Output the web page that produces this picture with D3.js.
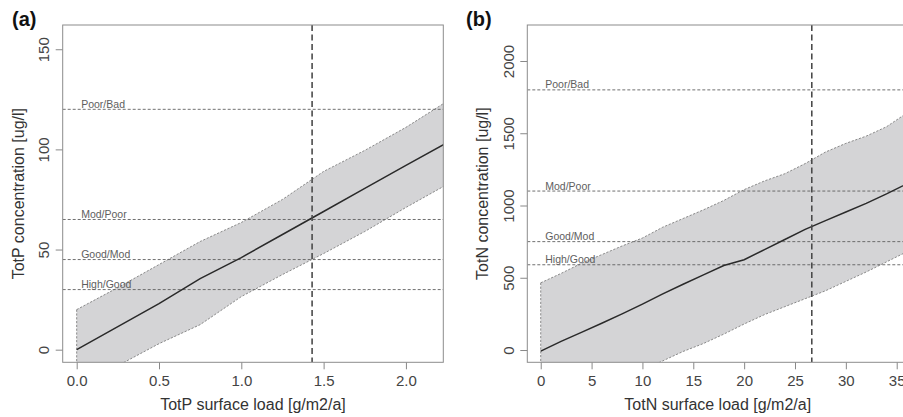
<!DOCTYPE html>
<html>
<head>
<meta charset="utf-8">
<script src="https://cdn.jsdelivr.net/npm/d3@7"></script>
<style>
  html, body { margin: 0; padding: 0; background: #fff; }
  svg { display: block; font-family: "Liberation Sans", Arial, sans-serif; }
</style>
</head>
<body>
<svg id="chart" width="903" height="417"></svg>
<script>
// ---- Total phosphorus: surface load vs. lake concentration ----
const loadP  = [0, 0.25, 0.5, 0.75, 1.0, 1.25, 1.5, 1.75, 2.0, 2.25];
const fitP   = [0, 11.5, 23, 35.5, 46, 57.5, 69, 80.5, 92, 103.3];
const upperP = [20, 31, 42.5, 54, 63.5, 75, 89, 99.5, 111, 124];
const lowerP = [-19, -8, 3, 12.5, 26.5, 37.5, 48, 59, 71, 82.5];
const thresholdsP = [30, 45, 65, 120];
const currentLoadP = 1.43;
const xTicksP = [0, 0.5, 1.0, 1.5, 2.0];
const yTicksP = [0, 50, 100, 150];

// ---- Total nitrogen: surface load vs. lake concentration ----
const loadN  = [0, 2, 4, 6, 8, 10, 12, 14, 16, 18, 20, 22, 24, 26, 28, 30, 32, 34, 36];
const fitN   = [-8, 60, 122, 185, 250, 318, 388, 455, 520, 585, 625, 695, 765, 835, 895, 955, 1015, 1080, 1150];
const upperN = [465, 530, 600, 660, 720, 775, 850, 910, 970, 1035, 1110, 1170, 1220, 1290, 1370, 1430, 1480, 1545, 1640];
const lowerN = [-450, -390, -330, -265, -205, -140, -75, -10, 45, 110, 180, 245, 300, 355, 410, 475, 540, 610, 680];
const thresholdsN = [590, 750, 1100, 1800];
const currentLoadN = 26.65;
const xTicksN = [0, 5, 10, 15, 20, 25, 30, 35];
const yTicksN = [0, 500, 1000, 1500, 2000];

// ecological class boundaries, low to high
const classLabels = ["High/Good", "Good/Mod", "Mod/Poor", "Poor/Bad"];

const svg = d3.select("#chart");

function panel(cfg) {
  const { id, left, right, top, bottom, xDomain, yDomain, load, fit, upper, lower,
          thresholds, current, xTicks, yTicks, xFmt, xTitle, yTitle, tag,
          tagX, yTickBase, yTitleBase } = cfg;

  const x = d3.scaleLinear().domain(xDomain).range([left, right]);
  const y = d3.scaleLinear().domain(yDomain).range([bottom, top]);

  svg.append("clipPath").attr("id", "clip-" + id)
    .append("rect").attr("x", left).attr("y", top)
    .attr("width", right - left).attr("height", bottom - top);

  const g = svg.append("g").attr("clip-path", `url(#clip-${id})`);

  const rows = load.map((d, i) => ({ x: d, fit: fit[i], hi: upper[i], lo: lower[i] }));

  // prediction band
  g.append("path").datum(rows)
    .attr("d", d3.area().x(d => x(d.x)).y0(d => y(d.lo)).y1(d => y(d.hi)))
    .attr("fill", "#d4d4d6").attr("stroke", "none");

  const edge = { stroke: "#7e7e7e", "stroke-width": 0.9, "stroke-dasharray": "2.2,1.6", fill: "none" };
  const bandUp = g.append("path").datum(rows).attr("d", d3.line().x(d => x(d.x)).y(d => y(d.hi)));
  const bandLo = g.append("path").datum(rows).attr("d", d3.line().x(d => x(d.x)).y(d => y(d.lo)));
  const bandStart = g.append("line")
    .attr("x1", x(load[0])).attr("x2", x(load[0]))
    .attr("y1", y(upper[0])).attr("y2", y(lower[0]));
  [bandUp, bandLo, bandStart].forEach(s => Object.entries(edge).forEach(([k, v]) => s.attr(k, v)));

  // class boundaries
  thresholds.forEach((t, i) => {
    g.append("line")
      .attr("x1", left).attr("x2", right)
      .attr("y1", y(t)).attr("y2", y(t))
      .attr("stroke", "#606060").attr("stroke-width", 0.9)
      .attr("stroke-dasharray", "3,2");
    g.append("text")
      .attr("x", x(0) + 4.5).attr("y", y(t) - 1.5)
      .attr("font-size", 10.5).attr("fill", "#5e5e5e")
      .text(classLabels[i]);
  });

  // fitted response
  g.append("path").datum(rows)
    .attr("d", d3.line().x(d => x(d.x)).y(d => y(d.fit)))
    .attr("fill", "none").attr("stroke", "#2a2a2a").attr("stroke-width", 1.5);

  // present load
  g.append("line")
    .attr("x1", x(current)).attr("x2", x(current))
    .attr("y1", top).attr("y2", bottom)
    .attr("stroke", "#4a4a4a").attr("stroke-width", 1.6)
    .attr("stroke-dasharray", "6,3.5");

  // axes
  const xAxis = svg.append("g").attr("transform", `translate(0,${bottom})`)
    .call(d3.axisBottom(x).tickValues(xTicks).tickFormat(xFmt).tickSize(7).tickPadding(6));
  xAxis.select(".domain").remove();
  xAxis.selectAll("line").attr("stroke", "#888");
  xAxis.selectAll("text").attr("font-size", 15).attr("fill", "#444")
    .attr("font-family", "Liberation Sans, Arial, sans-serif").attr("dy", "0.72em");

  const yAxis = svg.append("g").attr("transform", `translate(${left},0)`)
    .call(d3.axisLeft(y).tickValues(yTicks).tickFormat(d3.format("d")).tickSize(7));
  yAxis.select(".domain").remove();
  yAxis.selectAll("line").attr("stroke", "#888");
  yAxis.selectAll("text")
    .attr("font-size", 15).attr("fill", "#444")
    .attr("font-family", "Liberation Sans, Arial, sans-serif")
    .attr("transform", "rotate(-90)")
    .attr("x", 0).attr("y", -(left - yTickBase)).attr("dy", 0)
    .attr("text-anchor", "middle");

  // plot frame
  svg.append("rect")
    .attr("x", left).attr("y", top)
    .attr("width", right - left).attr("height", bottom - top)
    .attr("fill", "none").attr("stroke", "#8c8c8c").attr("stroke-width", 1);

  // titles
  svg.append("text")
    .attr("x", (left + right) / 2).attr("y", 410)
    .attr("text-anchor", "middle").attr("font-size", 16).attr("fill", "#333")
    .text(xTitle);
  svg.append("text")
    .attr("transform", `translate(${yTitleBase},${(top + bottom) / 2}) rotate(-90)`)
    .attr("text-anchor", "middle").attr("font-size", 16).attr("fill", "#333")
    .text(yTitle);
  svg.append("text")
    .attr("x", tagX).attr("y", 26)
    .attr("font-size", 20).attr("font-weight", "bold").attr("fill", "#111")
    .text(tag);
}

panel({
  id: "p", left: 62.7, right: 443.3, top: 25, bottom: 362.3,
  xDomain: [-0.085, 2.227], yDomain: [-6.3, 162.1],
  load: loadP, fit: fitP, upper: upperP, lower: lowerP,
  thresholds: thresholdsP, current: currentLoadP,
  xTicks: xTicksP, yTicks: yTicksP, xFmt: d3.format(".1f"),
  xTitle: "TotP surface load [g/m2/a]", yTitle: "TotP concentration [ug/l]",
  tag: "(a)", tagX: 12, yTickBase: 48.5, yTitleBase: 24
});

panel({
  id: "n", left: 527.3, right: 908.2, top: 25, bottom: 362.3,
  xDomain: [-1.32, 36.13], yDomain: [-85, 2249],
  load: loadN, fit: fitN, upper: upperN, lower: lowerN,
  thresholds: thresholdsN, current: currentLoadN,
  xTicks: xTicksN, yTicks: yTicksN, xFmt: d3.format("d"),
  xTitle: "TotN surface load [g/m2/a]", yTitle: "TotN concentration [ug/l]",
  tag: "(b)", tagX: 466, yTickBase: 513.5, yTitleBase: 488
});
</script>
</body>
</html>
